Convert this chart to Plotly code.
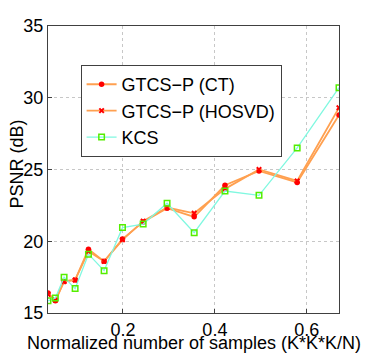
"""PSNR vs normalized number of samples: GTCS-P (CT / HOSVD) against KCS."""

import plotly.graph_objects as go

# ── Data ───────────────────────────────────────────────────────────────────
ratio = [0.037, 0.053, 0.072, 0.096, 0.125, 0.159, 0.199,
         0.244, 0.296, 0.355, 0.422, 0.496, 0.579, 0.670]

psnr_ct = [16.4, 15.85, 17.2, 17.3, 19.45, 18.6, 20.15,
           21.35, 22.3, 21.7, 23.9, 24.9, 24.1, 28.8]
psnr_hosvd = [16.3, 15.9, 17.2, 17.3, 19.3, 18.6, 20.1,
              21.4, 22.35, 21.95, 23.65, 25.0, 24.2, 29.3]
psnr_kcs = [15.85, 16.05, 17.5, 16.7, 19.1, 17.95, 20.95,
            21.2, 22.65, 20.6, 23.5, 23.2, 26.5, 30.7]

x_ticks = [0.2, 0.4, 0.6]
y_ticks = [15, 20, 25, 30, 35]

# ── Style ──────────────────────────────────────────────────────────────────
ORANGE = "#FFA050"
RED = "#FF0000"
AQUA = "#80F8E0"
GREEN = "#55EE00"
GRID = "rgba(0,0,0,0.22)"
FONT = "Liberation Sans, Arial, sans-serif"

fig = go.Figure()
fig.add_trace(go.Scatter(
    x=ratio, y=psnr_ct, name="GTCS\u2212P (CT)", mode="lines+markers",
    line={"color": ORANGE, "width": 1.8},
    marker={"symbol": "circle", "size": 5.5, "color": RED},
))
fig.add_trace(go.Scatter(
    x=ratio, y=psnr_hosvd, name="GTCS\u2212P (HOSVD)", mode="lines+markers",
    line={"color": ORANGE, "width": 1.8},
    marker={"symbol": "x-thin", "size": 4.5, "line": {"color": RED, "width": 2}},
))
fig.add_trace(go.Scatter(
    x=ratio, y=psnr_kcs, name="KCS", mode="lines+markers",
    line={"color": AQUA, "width": 1.3},
    marker={"symbol": "square-open", "size": 5.5,
            "line": {"color": GREEN, "width": 1.5}, "color": GREEN},
))

axis_common = dict(
    showgrid=True, gridcolor=GRID, griddash="dot", gridwidth=1,
    showline=True, linecolor="#404040", linewidth=1, mirror=True,
    ticks="inside", ticklen=4, tickcolor="#404040",
    zeroline=False, automargin=False,
    tickfont={"size": 18, "color": "black", "family": FONT},
)

# the page body adds an 8px margin, so the figure is sized to fit what is left
fig.update_layout(
    width=366, height=345,
    margin={"l": 40, "r": 35, "t": 18, "b": 40},
    paper_bgcolor="white", plot_bgcolor="white",
    font={"family": FONT, "color": "black", "size": 18},
    xaxis=dict(
        axis_common, range=[0.037, 0.670],
        tickvals=x_ticks, ticktext=[f"{v:.1f}" for v in x_ticks],
    ),
    yaxis=dict(axis_common, range=[15, 35], tickvals=y_ticks),
    legend={
        "x": 0.112, "y": 0.864, "xanchor": "left", "yanchor": "top",
        "bgcolor": "white", "bordercolor": "#404040", "borderwidth": 1,
        "font": {"size": 18, "family": FONT},
        "tracegroupgap": 0, "itemwidth": 30,
    },
    showlegend=True,
)

fig.add_annotation(
    text="Normalized number of samples (K*K*K/N)",
    xref="paper", yref="paper", x=0.5, y=-0.104,
    xanchor="center", yanchor="middle", showarrow=False,
    font={"size": 18, "family": FONT, "color": "black"},
)
fig.add_annotation(
    text="PSNR (dB)", textangle=-90,
    xref="paper", yref="paper", x=-0.107, y=0.52,
    xanchor="center", yanchor="middle", showarrow=False,
    font={"size": 18, "family": FONT, "color": "black"},
)

fig.write_html("out.html")
